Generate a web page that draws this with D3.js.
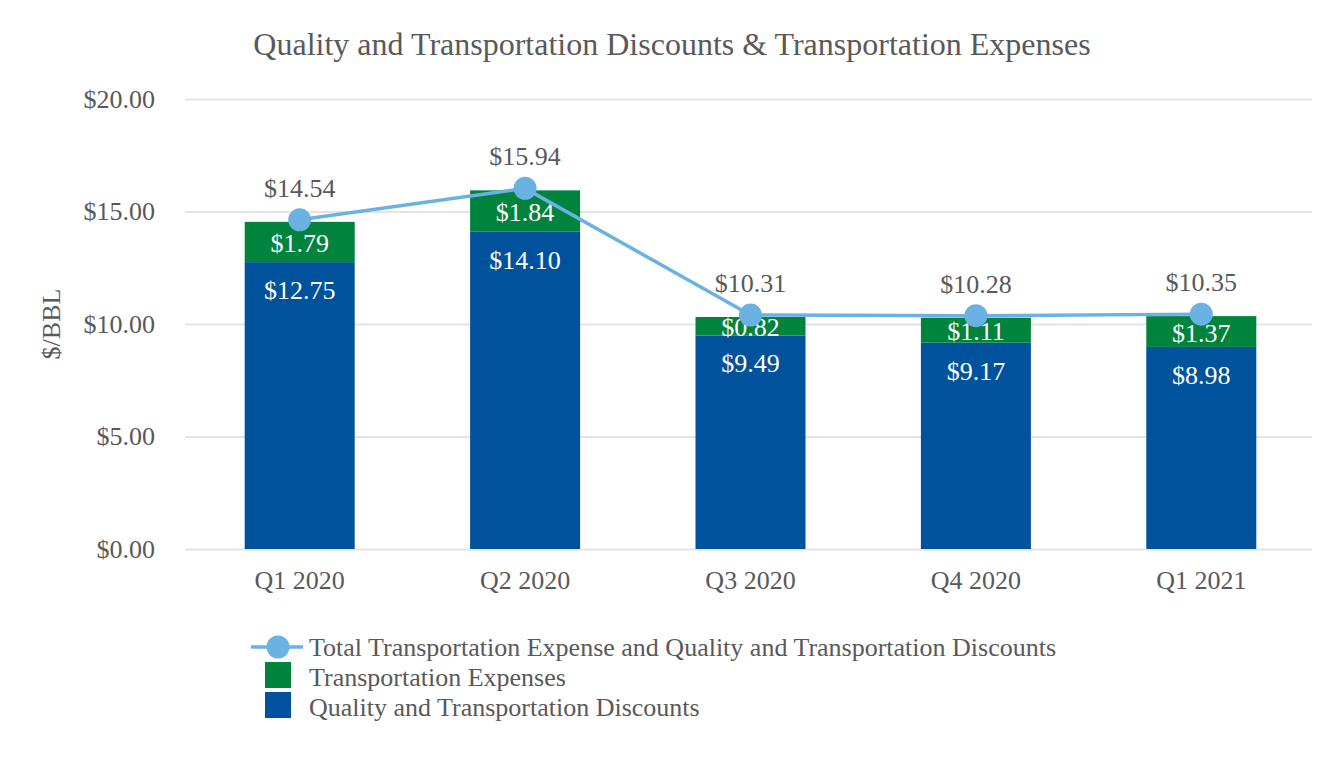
<!DOCTYPE html>
<html><head><meta charset="utf-8">
<script src="https://cdn.jsdelivr.net/npm/d3@7"></script>
<style>body{margin:0;background:#fff;} svg{display:block;} text{font-family:"Liberation Serif","Times New Roman",serif;}</style>
</head><body><svg id="c" width="1344" height="760"></svg>
<script>
const categories = ["Q1 2020","Q2 2020","Q3 2020","Q4 2020","Q1 2021"];
const discounts = [12.75, 14.10, 9.49, 9.17, 8.98];
const transport = [1.79, 1.84, 0.82, 1.11, 1.37];
const totals = [14.54, 15.94, 10.31, 10.28, 10.35];
const yTicks = [0, 5, 10, 15, 20];
const seriesNames = ["Total Transportation Expense and Quality and Transportation Discounts","Transportation Expenses","Quality and Transportation Discounts"];

const C_BLUE="#00529C", C_GREEN="#00843D", C_LINE="#6AB2E2", C_TEXT="#595959", C_GRID="#E4E4E4";
const svg=d3.select("#c");
const m={l:185,r:1312,t:99,b:549};
const x=d3.scaleBand().domain(categories).range([m.l+2,m.r+2]).paddingInner(0.512).paddingOuter(0.256);
const y=d3.scaleLinear().domain([0,20]).range([m.b,m.t]);
const fmt=d=>"$"+d.toFixed(2);
const FS=26;

svg.append("text").attr("x",672).attr("y",55).attr("text-anchor","middle").attr("font-size",32).attr("fill",C_TEXT)
 .text("Quality and Transportation Discounts & Transportation Expenses");

const yAxis=d3.axisLeft(y).tickValues(yTicks).tickSize(-(m.r-m.l)).tickFormat(fmt);
const ga=svg.append("g").attr("transform",`translate(${m.l},0)`).call(yAxis);
ga.select(".domain").remove();
ga.selectAll("line").attr("stroke",C_GRID).attr("stroke-width",2);
ga.selectAll("text").attr("x",-30).attr("font-size",FS).attr("fill",C_TEXT).attr("font-family","Liberation Serif");

svg.append("text").attr("transform","translate(60,324) rotate(-90)").attr("text-anchor","middle").attr("font-size",FS).attr("fill",C_TEXT).text("$/BBL");

const gx=svg.append("g").attr("transform",`translate(0,${m.b})`).call(d3.axisBottom(x).tickSize(0));
gx.select(".domain").remove();
gx.selectAll("text").attr("dy",0).attr("y",40).attr("font-size",FS).attr("fill",C_TEXT).attr("font-family","Liberation Serif");

const bw=x.bandwidth();
svg.append("g").selectAll("rect").data(categories).join("rect")
 .attr("x",d=>x(d)).attr("width",bw).attr("y",(d,i)=>y(discounts[i])).attr("height",(d,i)=>y(0)-y(discounts[i])).attr("fill",C_BLUE);
svg.append("g").selectAll("rect").data(categories).join("rect")
 .attr("x",d=>x(d)).attr("width",bw).attr("y",(d,i)=>y(discounts[i]+transport[i])).attr("height",(d,i)=>y(discounts[i])-y(discounts[i]+transport[i])).attr("fill",C_GREEN);

const cx=d=>x(d)+bw/2;
svg.append("g").selectAll("text").data(categories).join("text")
 .attr("x",cx).attr("y",(d,i)=>y(discounts[i])+37).attr("text-anchor","middle").attr("font-size",FS).attr("fill","#fff").text((d,i)=>fmt(discounts[i]));
svg.append("g").selectAll("text").data(categories).join("text")
 .attr("x",cx).attr("y",(d,i)=>(y(discounts[i])+y(discounts[i]+transport[i]))/2+10).attr("text-anchor","middle").attr("font-size",FS).attr("fill","#fff").text((d,i)=>fmt(transport[i]));

const line=d3.line().x((d,i)=>cx(categories[i])).y(d=>y(d)-2);
svg.append("path").datum(totals).attr("d",line).attr("fill","none").attr("stroke",C_LINE).attr("stroke-width",3.5);
svg.append("g").selectAll("circle").data(totals).join("circle").attr("cx",(d,i)=>cx(categories[i])).attr("cy",d=>y(d)-2).attr("r",11.5).attr("fill",C_LINE);
svg.append("g").selectAll("text").data(totals).join("text")
 .attr("x",(d,i)=>cx(categories[i])).attr("y",d=>y(d)-25).attr("text-anchor","middle").attr("font-size",FS).attr("fill",C_TEXT).text(d=>fmt(d));

const lg=svg.append("g");
lg.append("line").attr("x1",251).attr("x2",303).attr("y1",647).attr("y2",647).attr("stroke",C_LINE).attr("stroke-width",3.5);
lg.append("circle").attr("cx",278).attr("cy",647).attr("r",11.5).attr("fill",C_LINE);
lg.append("rect").attr("x",265).attr("y",662).attr("width",26).attr("height",26).attr("fill",C_GREEN);
lg.append("rect").attr("x",265).attr("y",692).attr("width",26).attr("height",26).attr("fill",C_BLUE);
lg.selectAll("text").data(seriesNames).join("text").attr("x",309).attr("y",(d,i)=>656+i*30).attr("font-size",FS).attr("fill",C_TEXT).text(d=>d);
</script></body></html>
